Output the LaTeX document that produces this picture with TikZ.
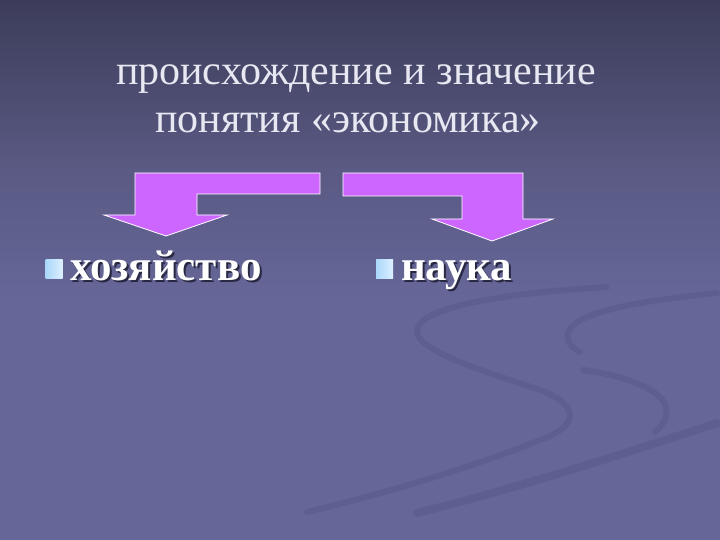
\documentclass[tikz,border=0pt]{standalone}
\usepackage{fontspec}
\setmainfont{Liberation Serif}
\definecolor{bgtop}{RGB}{60,60,90}
\definecolor{bgmid}{RGB}{90,90,132}
\definecolor{bgbot}{RGB}{102,102,153}
\definecolor{arrowfill}{RGB}{204,102,255}
\definecolor{titletext}{RGB}{232,232,242}
\definecolor{shadowc}{RGB}{40,40,66}
\definecolor{swoosh}{RGB}{78,78,124}
\definecolor{bulA}{RGB}{220,240,255}
\definecolor{bulB}{RGB}{170,215,250}
\newcommand{\shadowtext}[1]{\makebox[0pt][l]{\hspace{2pt}\raisebox{-2pt}{\color{shadowc}#1}}#1}
\tikzset{
  titlefont/.style={font=\fontsize{42}{48}\selectfont, inner sep=0pt},
  itemfont/.style={font=\bfseries\fontsize{43}{48}\selectfont, inner sep=0pt},
  bentarrow/.style={fill=arrowfill, draw=white, line width=0.8pt, line join=miter},
  bulletsq/.style={rectangle, minimum width=17pt, minimum height=19pt, inner sep=0pt, left color=bulB, right color=bulA},
  swooshline/.style={draw=swoosh, line width=6pt, opacity=0.3, line cap=round}
}
\begin{document}
\begin{tikzpicture}[x=1pt,y=-1pt]
\useasboundingbox (0,0) rectangle (720,540);
% background
\shade[top color=bgtop, bottom color=bgmid] (0,0) rectangle (720,170);
\shade[top color=bgmid, bottom color=bgbot] (0,170) rectangle (720,300);
\fill[bgbot] (0,300) rectangle (720,540);
% decorative swooshes
\draw[swooshline] (607,287) .. controls (520,292) and (420,305) .. (417,330)
  .. controls (415,350) and (480,370) .. (540,390)
  .. controls (580,405) and (578,425) .. (545,438)
  .. controls (480,465) and (380,495) .. (307,512);
\draw[swooshline] (717,293) .. controls (650,300) and (575,310) .. (568,333)
  .. controls (566,342) and (572,348) .. (580,352);
\draw[swooshline] (583,370) .. controls (640,378) and (690,400) .. (655,432);
\draw[swooshline, line width=8pt] (717,423) .. controls (650,445) and (530,485) .. (417,513);
% title
\node[titlefont, text=titletext, anchor=base] (t1) at (356,85) {происхождение и значение};
\node[titlefont, text=titletext, anchor=base] (t2) at (348,133) {понятия «экономика»};
% bent arrows
\draw[bentarrow] (320,173) -- (135,173) -- (135,215) -- (104,215) -- (166,236)
  -- (227,215) -- (197,215) -- (197,194) -- (320,194) -- cycle;
\draw[bentarrow] (343,173) -- (523,173) -- (523,219) -- (553,219) -- (492,241)
  -- (432,219) -- (462,219) -- (462,196) -- (343,196) -- cycle;
% bullets
\node[bulletsq] (b1) at (54,268.5) {};
\node[itemfont, text=white, anchor=base west] (i1) at (70,280) {\shadowtext{хозяйство}};
\node[bulletsq] (b2) at (384.5,268.5) {};
\node[itemfont, text=white, anchor=base west] (i2) at (401,280) {\shadowtext{наука}};
\end{tikzpicture}
\end{document}
